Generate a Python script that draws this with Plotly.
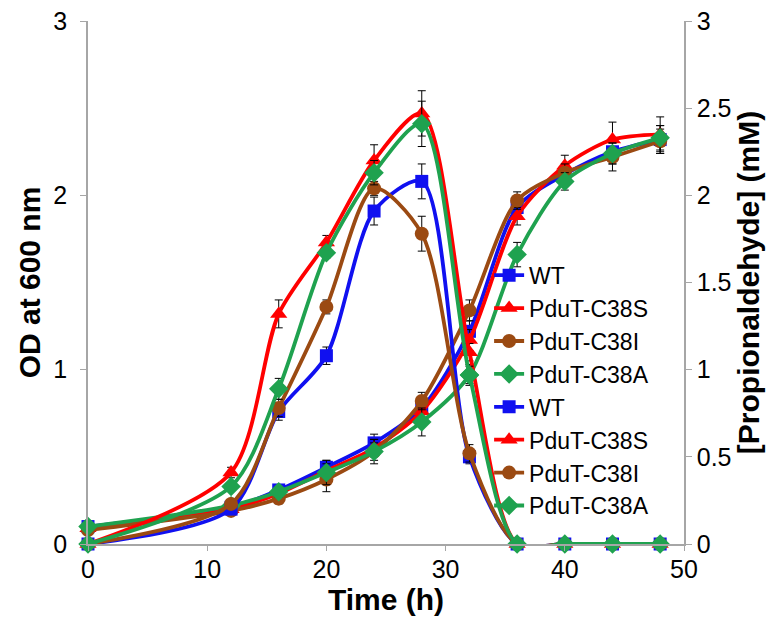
import plotly.graph_objects as go

time_h = [0, 12, 16, 20, 24, 28, 32, 36, 40, 44, 48]
strains = ["WT", "PduT-C38S", "PduT-C38I", "PduT-C38A"]

# OD at 600 nm (left axis)
od_wt   = [0.10, 0.21, 0.31, 0.44, 0.58, 0.78, 1.22, 1.93, 2.12, 2.25, 2.32]
od_c38s = [0.09, 0.20, 0.29, 0.42, 0.55, 0.76, 1.17, 1.88, 2.17, 2.32, 2.35]
od_c38i = [0.08, 0.19, 0.26, 0.37, 0.53, 0.82, 1.34, 1.97, 2.13, 2.22, 2.31]
od_c38a = [0.10, 0.22, 0.30, 0.41, 0.53, 0.70, 0.97, 1.66, 2.08, 2.24, 2.33]
od_err_wt   = [0.01, 0.02, 0.03, 0.04, 0.05, 0.06, 0.06, 0.05, 0.05, 0.07, 0.08]
od_err_c38s = [0.01, 0.02, 0.03, 0.04, 0.05, 0.06, 0.06, 0.05, 0.06, 0.10, 0.10]
od_err_c38i = [0.01, 0.02, 0.03, 0.07, 0.05, 0.05, 0.06, 0.05, 0.05, 0.08, 0.07]
od_err_c38a = [0.01, 0.02, 0.03, 0.07, 0.07, 0.08, 0.06, 0.07, 0.05, 0.06, 0.07]

# Propionaldehyde (mM) (right axis)
pa_wt   = [0.0, 0.20, 0.76, 1.08, 1.91, 2.08, 0.50, 0.0, 0.0, 0.0, 0.0]
pa_c38s = [0.0, 0.41, 1.32, 1.73, 2.20, 2.47, 1.10, 0.0, 0.0, 0.0, 0.0]
pa_c38i = [0.0, 0.23, 0.78, 1.36, 2.04, 1.78, 0.52, 0.0, 0.0, 0.0, 0.0]
pa_c38a = [0.0, 0.33, 0.89, 1.67, 2.13, 2.41, 0.97, 0.0, 0.0, 0.0, 0.0]
pa_err_wt   = [0.0, 0.02, 0.05, 0.05, 0.08, 0.10, 0.04, 0.0, 0.0, 0.0, 0.0]
pa_err_c38s = [0.0, 0.03, 0.08, 0.04, 0.09, 0.13, 0.05, 0.0, 0.0, 0.0, 0.0]
pa_err_c38i = [0.0, 0.02, 0.05, 0.04, 0.04, 0.10, 0.05, 0.0, 0.0, 0.0, 0.0]
pa_err_c38a = [0.0, 0.02, 0.06, 0.03, 0.07, 0.13, 0.05, 0.0, 0.0, 0.0, 0.0]

colors = ["#1010f0", "#ff0000", "#9b4a12", "#1fa24f"]
symbols = ["square", "triangle-up", "circle", "diamond"]
sizes = [13, 15, 14, 15]

od_sets = [(od_wt, od_err_wt), (od_c38s, od_err_c38s), (od_c38i, od_err_c38i), (od_c38a, od_err_c38a)]
pa_sets = [(pa_wt, pa_err_wt), (pa_c38s, pa_err_c38s), (pa_c38i, pa_err_c38i), (pa_c38a, pa_err_c38a)]

fig = go.Figure()

def add(vals, errs, i, yaxis):
    fig.add_trace(go.Scatter(
        x=time_h, y=vals, name=strains[i], yaxis=yaxis,
        mode="lines+markers",
        line=dict(color=colors[i], width=3.8, shape="spline", smoothing=0.8),
        marker=dict(symbol=symbols[i], size=sizes[i], color=colors[i]),
        error_y=dict(type="data", array=errs, color="black", thickness=1, width=4),
        cliponaxis=False,
    ))

for i, (v, e) in enumerate(od_sets):
    add(v, e, i, "y")
for i, (v, e) in enumerate(pa_sets):
    add(v, e, i, "y2")

FAM = "Liberation Sans, Arial"
axis_font = dict(family=FAM, size=25, color="black")
title_font = dict(family=FAM, size=30, color="black", weight="bold")
axcol = "#a6a6a6"

fig.update_layout(
    width=780, height=631,
    margin=dict(l=80, r=104, t=13, b=95),
    paper_bgcolor="white", plot_bgcolor="white",
    font=axis_font,
    xaxis=dict(range=[0, 50], dtick=10, showgrid=False, zeroline=False,
               showline=True, linecolor=axcol, linewidth=1.5,
               ticks="outside", ticklen=5, tickcolor=axcol,
               tickfont=axis_font, automargin=False, ticklabelstandoff=-3,
               title=dict(text="Time (h)", font=title_font, standoff=4)),
    yaxis=dict(range=[0, 3], dtick=1, showgrid=False, zeroline=False,
               showline=True, linecolor=axcol, linewidth=1.5,
               ticks="outside", ticklen=6, tickcolor=axcol,
               tickfont=axis_font, automargin=False, ticklabelstandoff=8,
               ticklabeloverflow="allow",
               title=dict(text="OD at 600 nm", font=title_font, standoff=4)),
    yaxis2=dict(range=[0, 3], dtick=0.5, overlaying="y", side="right",
                showgrid=False, zeroline=False,
                showline=True, linecolor=axcol, linewidth=1.5,
                ticks="outside", ticklen=6, tickcolor=axcol,
                tickfont=axis_font, automargin=False,
                ticklabeloverflow="allow",
                title=dict(text="[Propionaldehyde] (mM)", font=title_font, standoff=6)),
    legend=dict(x=0.673, y=0.555, xanchor="left", yanchor="top",
                bgcolor="rgba(0,0,0,0)", font=dict(family=FAM, size=23, color="black"),
                itemwidth=30, tracegroupgap=0),
    showlegend=True,
)

fig.write_html("out.html")
